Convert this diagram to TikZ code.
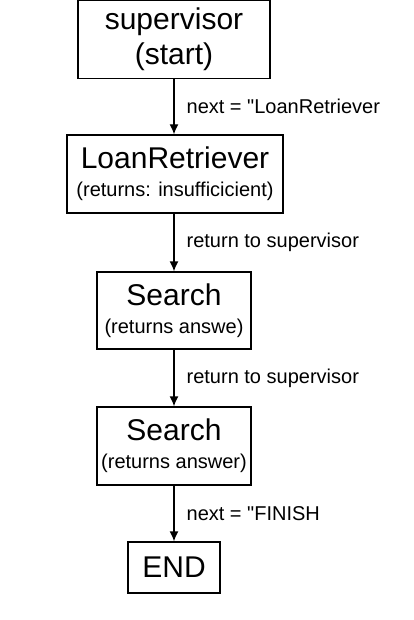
\documentclass[tikz,border=0pt]{standalone}
\usepackage{fontspec}
\setmainfont{Liberation Sans}[Ligatures=TeXOff]
\usetikzlibrary{arrows.meta}

\begin{document}
\begin{tikzpicture}[x=0.5pt, y=-0.5pt,
  box/.style={draw, line width=0.65pt, align=center, inner sep=0pt, minimum width=#1*0.5pt},
  box/.default=154,
  big/.style={font=\fontsize{15}{17.5}\selectfont},
  arr/.style={-{Latex[length=5pt, width=4.5pt]}, line width=0.65pt},
  lbl/.style={right, inner sep=0pt, xshift=6pt, font=\fontsize{10}{12}\selectfont}]
  \useasboundingbox (0,0) rectangle (413,620);
  \node[box=192, minimum height=39pt, big] (sup) at (174,39.5) {supervisor\\(start)};
  \node[box=216, minimum height=39pt] (loan) at (175,174) {{\fontsize{15}{18}\selectfont LoanRetriever}\\[2pt]{\fontsize{10}{12}\selectfont (returns: insufficicient)}};
  \node[box, minimum height=38.5pt] (srch1) at (174,310.5) {{\fontsize{15}{18}\selectfont Search}\\[2pt]{\fontsize{10}{12}\selectfont (returns answe)}};
  \node[box, minimum height=39pt] (srch2) at (174,446) {{\fontsize{15}{18}\selectfont Search}\\[2pt]{\fontsize{10}{12}\selectfont (returns answer)}};
  \node[box=92, minimum height=25.5pt, big] (end) at (174,567.5) {END};
  \draw[arr] (sup) -- node[lbl] {next = "LoanRetriever} (sup |- loan.north);
  \draw[arr] (sup |- loan.south) -- node[lbl] {return to supervisor} (srch1);
  \draw[arr] (srch1) -- node[lbl] {return to supervisor} (srch2);
  \draw[arr] (srch2) -- node[lbl] {next = "FINISH} (end);
\end{tikzpicture}
\end{document}
